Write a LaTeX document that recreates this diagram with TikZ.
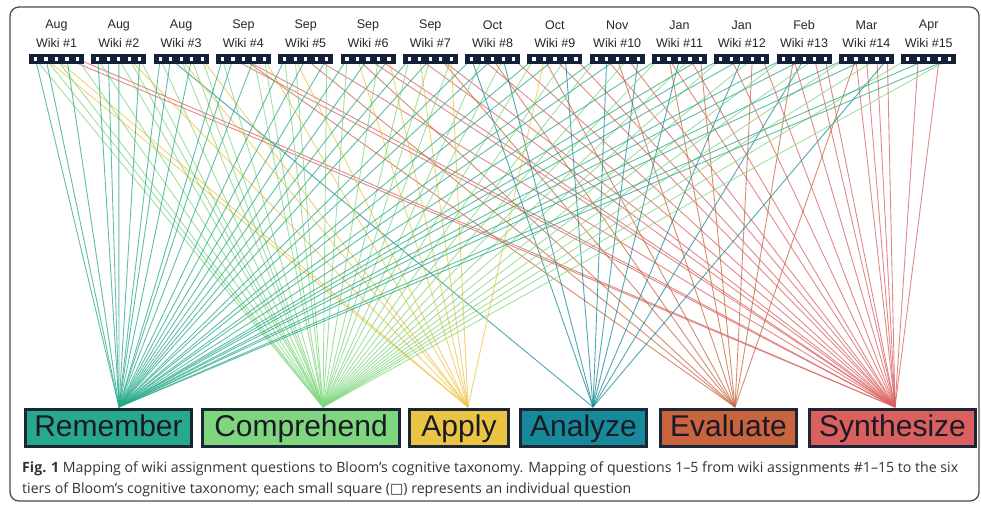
\documentclass[tikz,border=0pt]{standalone}
\usepackage{fontspec}
\setmainfont{Liberation Sans}
\newfontfamily\capfont{Open Sans}
\newfontfamily\symfont{DejaVu Sans}
\usetikzlibrary{backgrounds}
\definecolor{cR}{HTML}{27A98B}
\definecolor{cC}{HTML}{80D67E}
\definecolor{cA}{HTML}{ECC444}
\definecolor{cN}{HTML}{16899A}
\definecolor{cE}{HTML}{C9643F}
\definecolor{cS}{HTML}{D9605E}
\definecolor{navy}{HTML}{142038}
\definecolor{boxline}{HTML}{1B2637}
\definecolor{txt}{HTML}{1A1A24}
\tikzset{
  frame/.style={draw=black!70, line width=1.3pt, rounded corners=9pt},
  bar/.style={fill=navy, minimum width=55pt, minimum height=10pt, inner sep=0pt},
  sq/.style={fill=white, minimum size=3.2pt, inner sep=0pt},
  toplbl/.style={font=\fontsize{12.5}{14}\selectfont, text=black!85, inner sep=0pt},
  cat/.style={draw=boxline, line width=3pt, minimum height=37pt, inner sep=0pt,
    text height=22pt, text depth=6pt,
    font=\fontsize{30}{32}\selectfont, text=txt},
  ln/.style={line width=0.9pt, opacity=0.75},
  captxt/.style={font=\capfont\fontsize{14.15}{15}\selectfont, text=black!80, anchor=base west, inner sep=0pt}
}
\begin{document}
\begin{tikzpicture}[x=1pt,y=-1pt]
\useasboundingbox (0,0) rectangle (981,504);
% top wiki blocks
\foreach \m [count=\w] in {Aug,Aug,Aug,Sep,Sep,Sep,Sep,Oct,Oct,Nov,Jan,Jan,Feb,Mar,Apr} {
  \pgfmathsetmacro\bx{29+62.3*(\w-1)}
  \node[bar] (b\w) at (\bx+27.5,59) {};
  \node[toplbl] (m\w) at (\bx+27.5,25) {\m};
  \node[toplbl] (t\w) at (\bx+27.5,43) {Wiki \#\w};
  \foreach \q in {1,...,5} {
    \node[sq] (q\w-\q) at (\bx+6.5+10.5*\q-10.5,59) {};
  }
}
% category boxes
\node[cat, fill=cR, minimum width=166pt] (R) at (108.5,428) {Remember};
\node[cat, fill=cC, minimum width=197pt] (C) at (301,428) {Comprehend};
\node[cat, fill=cA, minimum width=99pt] (A) at (459,428) {Apply};
\node[cat, fill=cN, minimum width=126pt] (N) at (583.5,428) {Analyze};
\node[cat, fill=cE, minimum width=136pt] (E) at (728.5,428) {Evaluate};
\node[cat, fill=cS, minimum width=166pt] (S) at (892.5,428) {Synthesize};
\coordinate (pR) at (119,407);
\coordinate (pC) at (323,407);
\coordinate (pA) at (468,407);
\coordinate (pN) at (593,407);
\coordinate (pE) at (735,407);
\coordinate (pS) at (895,407);
% caption
\node[captxt] (cap1) at (22,472) {\textbf{Fig. 1} Mapping of wiki assignment questions to Bloom’s cognitive taxonomy. Mapping of questions 1–5 from wiki assignments \#1–15 to the six};
\node[captxt] (cap2) at (22,493) {tiers of Bloom’s cognitive taxonomy; each small square ({\symfont □}) represents an individual question};
\begin{pgfonlayer}{background}
\draw[frame] (10,7) rectangle (979,501);
\foreach \w/\q/\c in {
1/1/R,1/1/C,1/2/R,1/2/C,1/2/A,1/3/C,1/3/A,1/4/R,1/4/S,1/5/C,1/5/S,
2/1/R,2/1/C,2/2/R,2/3/R,2/3/C,2/4/C,2/4/A,2/5/R,2/5/C,
3/1/R,3/1/C,3/2/R,3/2/N,3/3/C,3/3/A,3/4/R,3/4/C,3/5/C,3/5/A,
4/1/R,4/1/C,4/2/R,4/2/S,4/3/E,4/3/S,4/4/R,4/4/C,4/5/C,4/5/A,
5/1/R,5/1/C,5/2/C,5/2/A,5/3/R,5/3/E,5/4/S,5/5/R,5/5/C,
6/1/R,6/1/C,6/2/A,6/2/E,6/3/R,6/3/S,6/4/C,6/4/S,6/5/R,6/5/A,
7/1/R,7/1/C,7/2/A,7/2/S,7/3/R,7/3/C,7/4/E,7/4/S,7/5/C,7/5/A,
8/1/R,8/1/N,8/2/C,8/2/S,8/3/R,8/3/E,8/4/C,8/4/N,8/5/S,
9/1/R,9/1/C,9/2/A,9/2/E,9/3/R,9/3/S,9/4/C,9/4/N,9/5/S,
10/1/R,10/1/C,10/2/N,10/2/S,10/3/R,10/3/E,10/4/C,10/4/S,10/5/N,
11/1/R,11/1/C,11/2/E,11/2/S,11/3/N,11/4/C,11/4/S,11/5/R,11/5/E,
12/1/R,12/1/C,12/2/S,12/3/R,12/3/N,12/4/C,12/4/E,12/5/S,
13/1/R,13/1/C,13/2/S,13/2/E,13/3/R,13/3/N,13/4/C,13/4/S,13/5/S,
14/1/R,14/1/C,14/2/E,14/2/S,14/3/R,14/3/S,14/4/C,14/4/S,14/5/S,14/5/N,
15/1/C,15/2/S,15/3/R,15/4/S,15/5/R,15/5/C} {
  \draw[ln, draw=c\c] (q\w-\q) -- (p\c);
}
\end{pgfonlayer}
\end{tikzpicture}
\end{document}
